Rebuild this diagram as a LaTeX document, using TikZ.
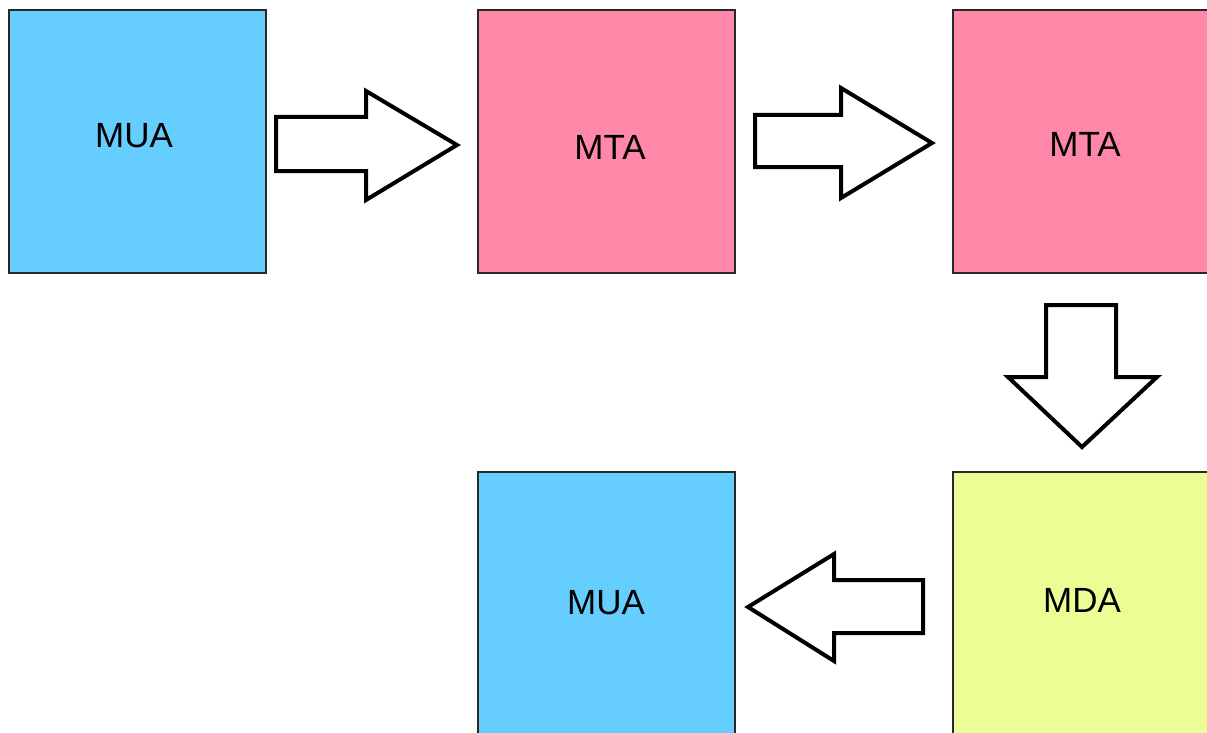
\documentclass[tikz,border=0pt]{standalone}
\usepackage{fontspec}
\setmainfont{Liberation Sans}
\definecolor{muablue}{RGB}{102,206,255}
\definecolor{mtapink}{RGB}{255,136,168}
\definecolor{mdayellow}{RGB}{236,253,150}
\definecolor{edgegray}{RGB}{40,40,40}
\begin{document}
\begin{tikzpicture}[x=1pt,y=-1pt,
  agent/.style={draw=edgegray,line width=2pt,minimum width=257pt,minimum height=263pt,inner sep=0pt,outer sep=0pt,anchor=north west,font=\fontsize{35}{40}\selectfont,text=black!90},
  blockarrow/.style={draw=black,fill=white,line width=4pt,line join=miter}]
\useasboundingbox (0,0) rectangle (1207,733);
\fill[white] (0,0) rectangle (1207,733);
\node[agent,fill=muablue] (mua1) at (9,10) {};
\node[agent,fill=mtapink] (mta1) at (478,10) {};
\node[agent,fill=mtapink] (mta2) at (953,10) {};
\node[agent,fill=mdayellow] (mda) at (953,472) {};
\node[agent,fill=muablue] (mua2) at (478,472) {};
\node[font=\fontsize{35}{40}\selectfont] (t1) at (134,136) {MUA};
\node[font=\fontsize{35}{40}\selectfont] (t2) at (610,147) {MTA};
\node[font=\fontsize{35}{40}\selectfont] (t3) at (1085,144) {MTA};
\node[font=\fontsize{35}{40}\selectfont] (t4) at (1082,600) {MDA};
\node[font=\fontsize{35}{40}\selectfont] (t5) at (606,603) {MUA};
% right arrow 1
\draw[blockarrow] (276,117) -- (366,117) -- (366,91) -- (457,145) -- (366,200) -- (366,171) -- (276,171) -- cycle;
% right arrow 2
\draw[blockarrow] (755,115) -- (841,115) -- (841,88) -- (932,143) -- (841,198) -- (841,167) -- (755,167) -- cycle;
% down arrow
\draw[blockarrow] (1046,305) -- (1116,305) -- (1116,377) -- (1157,377) -- (1082,447) -- (1008,377) -- (1046,377) -- cycle;
% left arrow
\draw[blockarrow] (923,580) -- (834,580) -- (834,554) -- (748,607) -- (834,661) -- (834,633) -- (923,633) -- cycle;
\end{tikzpicture}
\end{document}
